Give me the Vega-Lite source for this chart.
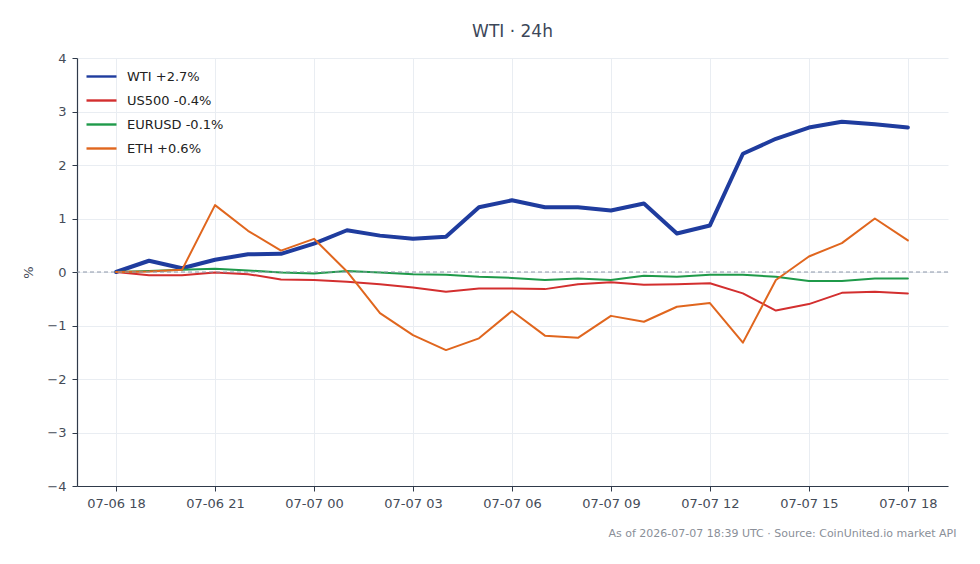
{
  "$schema": "https://vega.github.io/schema/vega-lite/v6.json",
  "width": 871,
  "height": 428,
  "autosize": "none",
  "padding": {"left": 77, "top": 58, "right": 32, "bottom": 78},
  "background": "#ffffff",
  "config": {
    "font": "DejaVu Sans",
    "view": {"stroke": null},
    "axis": {
      "labelFont": "DejaVu Sans",
      "labelFontSize": 13,
      "labelColor": "#454c58",
      "domainColor": "#2f3a4a",
      "domainWidth": 1.2,
      "tickColor": "#2f3a4a",
      "tickSize": 5,
      "gridColor": "#e9edf2",
      "gridWidth": 1
    }
  },
  "title": {
    "text": "WTI · 24h",
    "fontSize": 17,
    "fontWeight": "normal",
    "color": "#3c4759",
    "anchor": "middle",
    "offset": 11
  },
  "data": {
    "values": [
      {"t": "2026-07-06T18:00:00Z", "asset": "WTI +2.7%", "pct": 0},
      {"t": "2026-07-06T19:00:00Z", "asset": "WTI +2.7%", "pct": 0.21},
      {"t": "2026-07-06T20:00:00Z", "asset": "WTI +2.7%", "pct": 0.07},
      {"t": "2026-07-06T21:00:00Z", "asset": "WTI +2.7%", "pct": 0.23},
      {"t": "2026-07-06T22:00:00Z", "asset": "WTI +2.7%", "pct": 0.33},
      {"t": "2026-07-06T23:00:00Z", "asset": "WTI +2.7%", "pct": 0.34},
      {"t": "2026-07-07T00:00:00Z", "asset": "WTI +2.7%", "pct": 0.53},
      {"t": "2026-07-07T01:00:00Z", "asset": "WTI +2.7%", "pct": 0.78},
      {"t": "2026-07-07T02:00:00Z", "asset": "WTI +2.7%", "pct": 0.68},
      {"t": "2026-07-07T03:00:00Z", "asset": "WTI +2.7%", "pct": 0.62},
      {"t": "2026-07-07T04:00:00Z", "asset": "WTI +2.7%", "pct": 0.66},
      {"t": "2026-07-07T05:00:00Z", "asset": "WTI +2.7%", "pct": 1.21},
      {"t": "2026-07-07T06:00:00Z", "asset": "WTI +2.7%", "pct": 1.34},
      {"t": "2026-07-07T07:00:00Z", "asset": "WTI +2.7%", "pct": 1.21},
      {"t": "2026-07-07T08:00:00Z", "asset": "WTI +2.7%", "pct": 1.21},
      {"t": "2026-07-07T09:00:00Z", "asset": "WTI +2.7%", "pct": 1.15},
      {"t": "2026-07-07T10:00:00Z", "asset": "WTI +2.7%", "pct": 1.28},
      {"t": "2026-07-07T11:00:00Z", "asset": "WTI +2.7%", "pct": 0.72},
      {"t": "2026-07-07T12:00:00Z", "asset": "WTI +2.7%", "pct": 0.87},
      {"t": "2026-07-07T13:00:00Z", "asset": "WTI +2.7%", "pct": 2.21},
      {"t": "2026-07-07T14:00:00Z", "asset": "WTI +2.7%", "pct": 2.49},
      {"t": "2026-07-07T15:00:00Z", "asset": "WTI +2.7%", "pct": 2.70},
      {"t": "2026-07-07T16:00:00Z", "asset": "WTI +2.7%", "pct": 2.81},
      {"t": "2026-07-07T17:00:00Z", "asset": "WTI +2.7%", "pct": 2.76},
      {"t": "2026-07-07T18:00:00Z", "asset": "WTI +2.7%", "pct": 2.70},
      {"t": "2026-07-06T18:00:00Z", "asset": "US500 -0.4%", "pct": 0},
      {"t": "2026-07-06T19:00:00Z", "asset": "US500 -0.4%", "pct": -0.06},
      {"t": "2026-07-06T20:00:00Z", "asset": "US500 -0.4%", "pct": -0.06},
      {"t": "2026-07-06T21:00:00Z", "asset": "US500 -0.4%", "pct": -0.01},
      {"t": "2026-07-06T22:00:00Z", "asset": "US500 -0.4%", "pct": -0.04},
      {"t": "2026-07-06T23:00:00Z", "asset": "US500 -0.4%", "pct": -0.14},
      {"t": "2026-07-07T00:00:00Z", "asset": "US500 -0.4%", "pct": -0.15},
      {"t": "2026-07-07T01:00:00Z", "asset": "US500 -0.4%", "pct": -0.18},
      {"t": "2026-07-07T02:00:00Z", "asset": "US500 -0.4%", "pct": -0.23},
      {"t": "2026-07-07T03:00:00Z", "asset": "US500 -0.4%", "pct": -0.29},
      {"t": "2026-07-07T04:00:00Z", "asset": "US500 -0.4%", "pct": -0.37},
      {"t": "2026-07-07T05:00:00Z", "asset": "US500 -0.4%", "pct": -0.31},
      {"t": "2026-07-07T06:00:00Z", "asset": "US500 -0.4%", "pct": -0.31},
      {"t": "2026-07-07T07:00:00Z", "asset": "US500 -0.4%", "pct": -0.32},
      {"t": "2026-07-07T08:00:00Z", "asset": "US500 -0.4%", "pct": -0.23},
      {"t": "2026-07-07T09:00:00Z", "asset": "US500 -0.4%", "pct": -0.19},
      {"t": "2026-07-07T10:00:00Z", "asset": "US500 -0.4%", "pct": -0.24},
      {"t": "2026-07-07T11:00:00Z", "asset": "US500 -0.4%", "pct": -0.23},
      {"t": "2026-07-07T12:00:00Z", "asset": "US500 -0.4%", "pct": -0.21},
      {"t": "2026-07-07T13:00:00Z", "asset": "US500 -0.4%", "pct": -0.40},
      {"t": "2026-07-07T14:00:00Z", "asset": "US500 -0.4%", "pct": -0.72},
      {"t": "2026-07-07T15:00:00Z", "asset": "US500 -0.4%", "pct": -0.60},
      {"t": "2026-07-07T16:00:00Z", "asset": "US500 -0.4%", "pct": -0.39},
      {"t": "2026-07-07T17:00:00Z", "asset": "US500 -0.4%", "pct": -0.37},
      {"t": "2026-07-07T18:00:00Z", "asset": "US500 -0.4%", "pct": -0.40},
      {"t": "2026-07-06T18:00:00Z", "asset": "EURUSD -0.1%", "pct": 0},
      {"t": "2026-07-06T19:00:00Z", "asset": "EURUSD -0.1%", "pct": 0.02},
      {"t": "2026-07-06T20:00:00Z", "asset": "EURUSD -0.1%", "pct": 0.04},
      {"t": "2026-07-06T21:00:00Z", "asset": "EURUSD -0.1%", "pct": 0.06},
      {"t": "2026-07-06T22:00:00Z", "asset": "EURUSD -0.1%", "pct": 0.03},
      {"t": "2026-07-06T23:00:00Z", "asset": "EURUSD -0.1%", "pct": -0.01},
      {"t": "2026-07-07T00:00:00Z", "asset": "EURUSD -0.1%", "pct": -0.03},
      {"t": "2026-07-07T01:00:00Z", "asset": "EURUSD -0.1%", "pct": 0.02},
      {"t": "2026-07-07T02:00:00Z", "asset": "EURUSD -0.1%", "pct": -0.01},
      {"t": "2026-07-07T03:00:00Z", "asset": "EURUSD -0.1%", "pct": -0.04},
      {"t": "2026-07-07T04:00:00Z", "asset": "EURUSD -0.1%", "pct": -0.05},
      {"t": "2026-07-07T05:00:00Z", "asset": "EURUSD -0.1%", "pct": -0.09},
      {"t": "2026-07-07T06:00:00Z", "asset": "EURUSD -0.1%", "pct": -0.11},
      {"t": "2026-07-07T07:00:00Z", "asset": "EURUSD -0.1%", "pct": -0.15},
      {"t": "2026-07-07T08:00:00Z", "asset": "EURUSD -0.1%", "pct": -0.12},
      {"t": "2026-07-07T09:00:00Z", "asset": "EURUSD -0.1%", "pct": -0.15},
      {"t": "2026-07-07T10:00:00Z", "asset": "EURUSD -0.1%", "pct": -0.07},
      {"t": "2026-07-07T11:00:00Z", "asset": "EURUSD -0.1%", "pct": -0.09},
      {"t": "2026-07-07T12:00:00Z", "asset": "EURUSD -0.1%", "pct": -0.05},
      {"t": "2026-07-07T13:00:00Z", "asset": "EURUSD -0.1%", "pct": -0.05},
      {"t": "2026-07-07T14:00:00Z", "asset": "EURUSD -0.1%", "pct": -0.09},
      {"t": "2026-07-07T15:00:00Z", "asset": "EURUSD -0.1%", "pct": -0.17},
      {"t": "2026-07-07T16:00:00Z", "asset": "EURUSD -0.1%", "pct": -0.17},
      {"t": "2026-07-07T17:00:00Z", "asset": "EURUSD -0.1%", "pct": -0.12},
      {"t": "2026-07-07T18:00:00Z", "asset": "EURUSD -0.1%", "pct": -0.12},
      {"t": "2026-07-06T18:00:00Z", "asset": "ETH +0.6%", "pct": 0},
      {"t": "2026-07-06T19:00:00Z", "asset": "ETH +0.6%", "pct": 0.01},
      {"t": "2026-07-06T20:00:00Z", "asset": "ETH +0.6%", "pct": 0.04},
      {"t": "2026-07-06T21:00:00Z", "asset": "ETH +0.6%", "pct": 1.25},
      {"t": "2026-07-06T22:00:00Z", "asset": "ETH +0.6%", "pct": 0.77},
      {"t": "2026-07-06T23:00:00Z", "asset": "ETH +0.6%", "pct": 0.40},
      {"t": "2026-07-07T00:00:00Z", "asset": "ETH +0.6%", "pct": 0.62},
      {"t": "2026-07-07T01:00:00Z", "asset": "ETH +0.6%", "pct": 0.01},
      {"t": "2026-07-07T02:00:00Z", "asset": "ETH +0.6%", "pct": -0.77},
      {"t": "2026-07-07T03:00:00Z", "asset": "ETH +0.6%", "pct": -1.18},
      {"t": "2026-07-07T04:00:00Z", "asset": "ETH +0.6%", "pct": -1.46},
      {"t": "2026-07-07T05:00:00Z", "asset": "ETH +0.6%", "pct": -1.24},
      {"t": "2026-07-07T06:00:00Z", "asset": "ETH +0.6%", "pct": -0.73},
      {"t": "2026-07-07T07:00:00Z", "asset": "ETH +0.6%", "pct": -1.19},
      {"t": "2026-07-07T08:00:00Z", "asset": "ETH +0.6%", "pct": -1.23},
      {"t": "2026-07-07T09:00:00Z", "asset": "ETH +0.6%", "pct": -0.82},
      {"t": "2026-07-07T10:00:00Z", "asset": "ETH +0.6%", "pct": -0.93},
      {"t": "2026-07-07T11:00:00Z", "asset": "ETH +0.6%", "pct": -0.65},
      {"t": "2026-07-07T12:00:00Z", "asset": "ETH +0.6%", "pct": -0.58},
      {"t": "2026-07-07T13:00:00Z", "asset": "ETH +0.6%", "pct": -1.32},
      {"t": "2026-07-07T14:00:00Z", "asset": "ETH +0.6%", "pct": -0.15},
      {"t": "2026-07-07T15:00:00Z", "asset": "ETH +0.6%", "pct": 0.29},
      {"t": "2026-07-07T16:00:00Z", "asset": "ETH +0.6%", "pct": 0.54},
      {"t": "2026-07-07T17:00:00Z", "asset": "ETH +0.6%", "pct": 1.00},
      {"t": "2026-07-07T18:00:00Z", "asset": "ETH +0.6%", "pct": 0.59}
    ]
  },
  "layer": [
    {
      "mark": {"type": "line", "strokeJoin": "round", "strokeCap": "round"},
      "encoding": {
        "x": {
          "field": "t",
          "type": "temporal",
          "scale": {
            "type": "utc",
            "domain": [
              {"year": 2026, "month": 7, "date": 6, "hours": 16, "minutes": 49, "utc": true},
              {"year": 2026, "month": 7, "date": 7, "hours": 19, "minutes": 13, "utc": true}
            ]
          },
          "axis": {
            "title": "As of 2026-07-07 18:39 UTC · Source: CoinUnited.io market API",
            "titleFontSize": 11,
            "titleFontWeight": "normal",
            "titleColor": "#8a8f98",
            "titleAnchor": "end",
            "titleAlign": "right",
            "titleX": 879,
            "titleY": 41,
            "format": "%m-%d %H",
            "tickCount": 9,
            "labelPadding": 6,
            "labelFlush": false
          }
        },
        "y": {
          "field": "pct",
          "type": "quantitative",
          "scale": {"domain": [-4, 4], "nice": false},
          "axis": {
            "title": "%",
            "titleFontSize": 13,
            "titleFontWeight": "normal",
            "titleColor": "#454c58",
            "titlePadding": 11,
            "tickCount": 8,
            "labelPadding": 6
          }
        },
        "color": {
          "field": "asset",
          "type": "nominal",
          "sort": null,
          "scale": {
            "domain": ["WTI +2.7%", "US500 -0.4%", "EURUSD -0.1%", "ETH +0.6%"],
            "range": ["#1f3c9e", "#d32f2f", "#1f9a4a", "#e0661e"]
          },
          "legend": {
            "title": null,
            "orient": "top-left",
            "offset": 2,
            "symbolOffset": 6,
            "symbolType": "stroke",
            "symbolSize": 900,
            "symbolStrokeWidth": 2.4,
            "labelFontSize": 13,
            "labelColor": "#222222",
            "labelOffset": 9,
            "rowPadding": -5
          }
        },
        "strokeWidth": {
          "condition": {"test": "datum.asset === 'WTI +2.7%'", "value": 4},
          "value": 2
        }
      }
    },
    {
      "mark": {"type": "rule", "color": "#8d97a8", "strokeWidth": 1, "strokeDash": [4, 3]},
      "data": {"values": [{"zero": 0}]},
      "encoding": {"y": {"field": "zero", "type": "quantitative"}}
    }
  ]
}
